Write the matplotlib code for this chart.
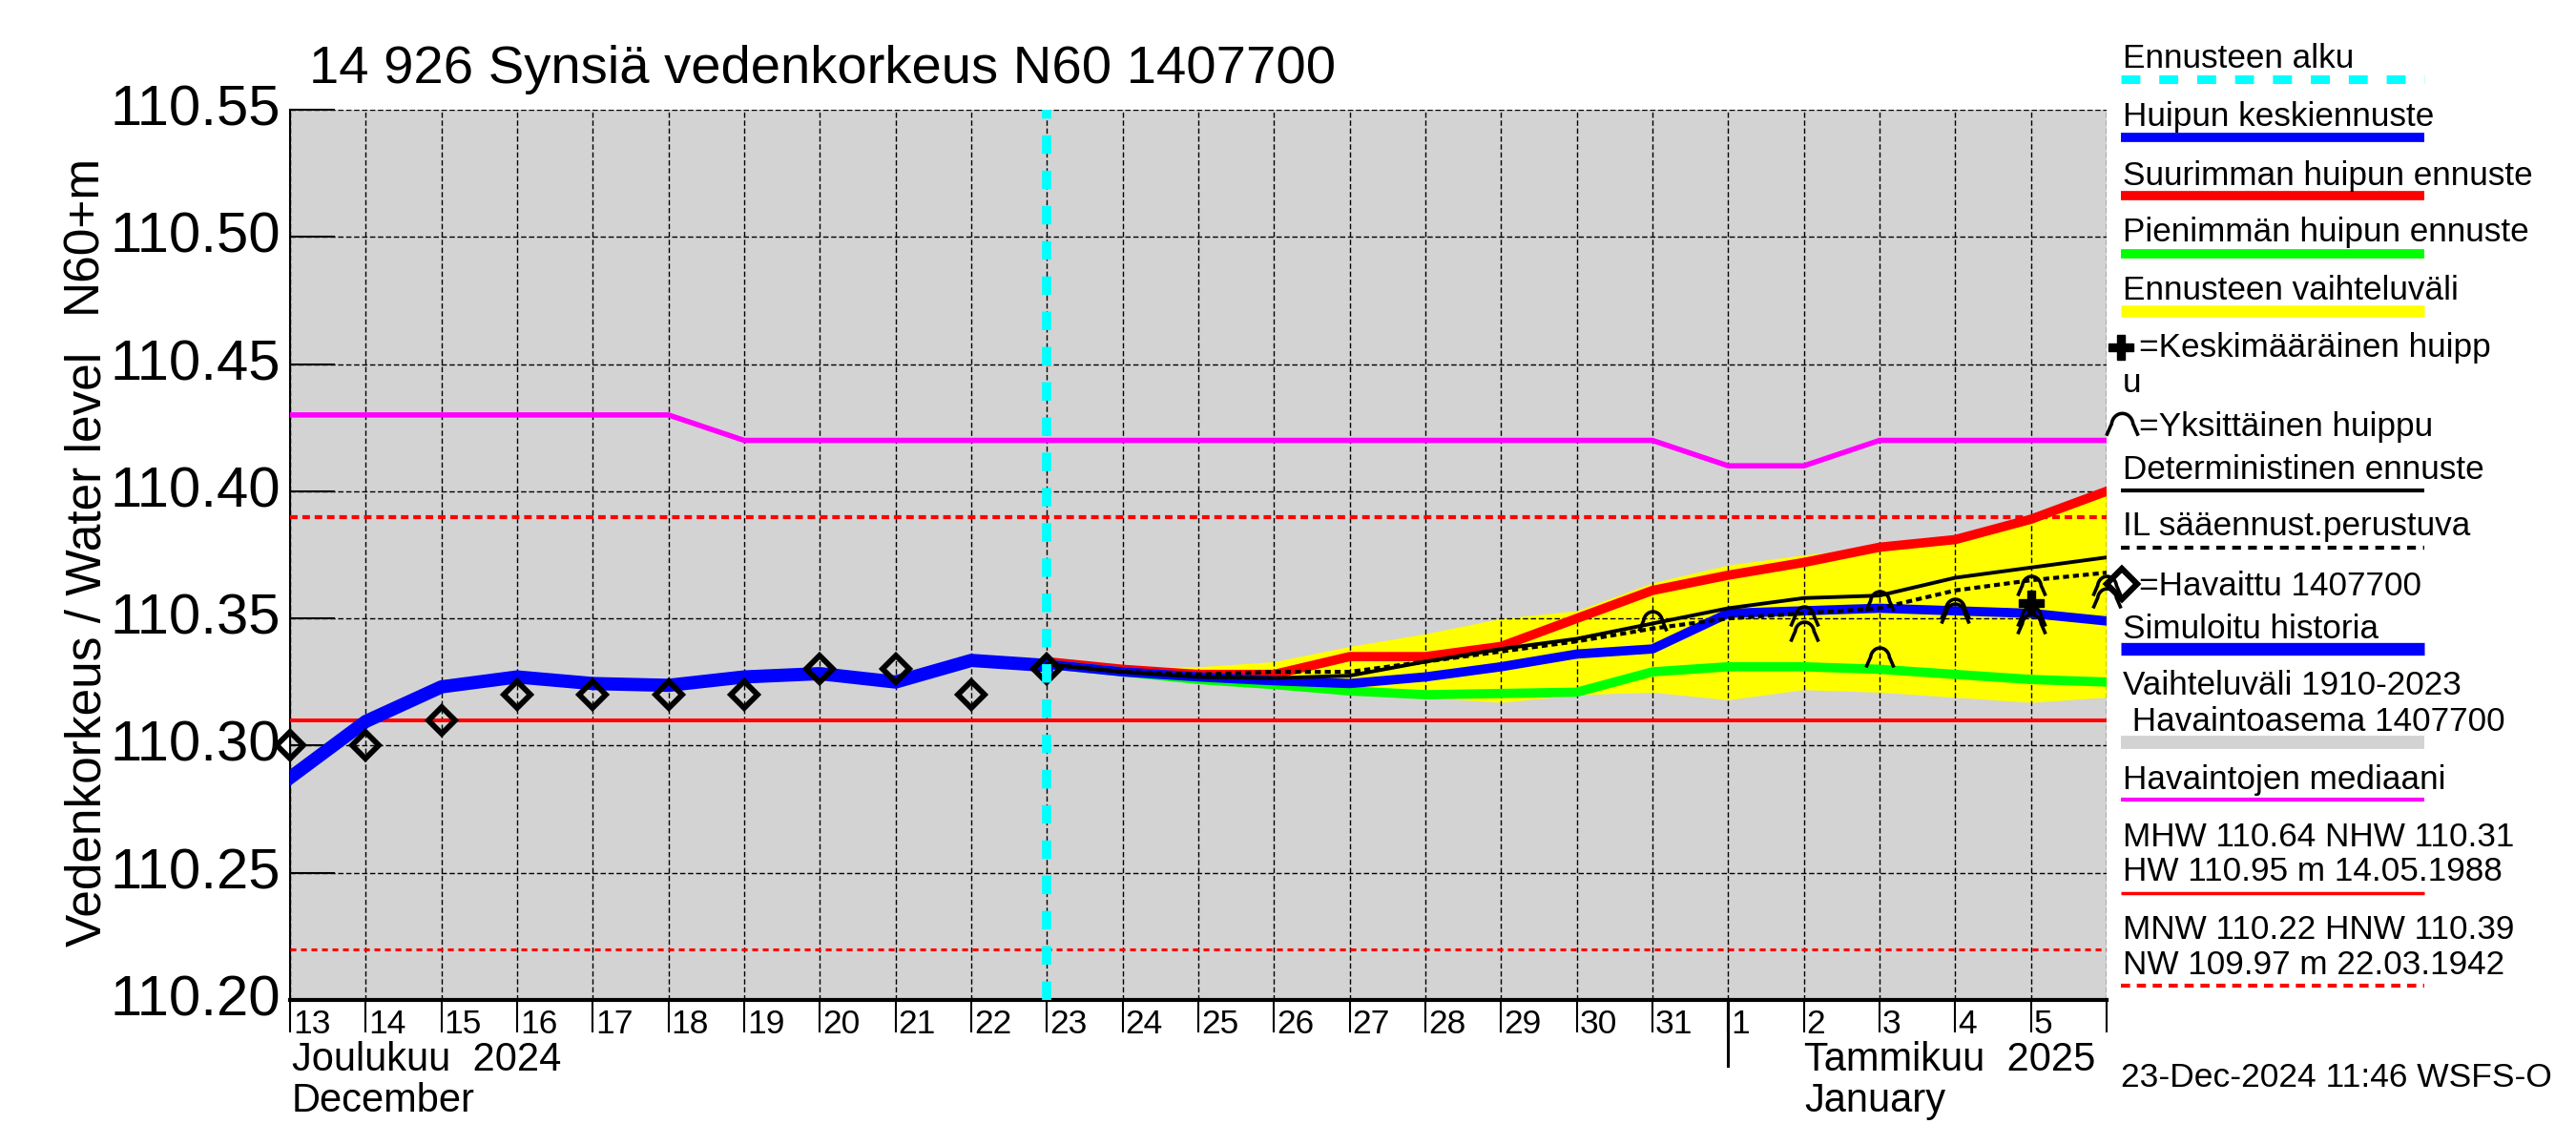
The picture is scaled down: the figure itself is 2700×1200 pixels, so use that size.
import numpy as np
import matplotlib
matplotlib.use('Agg')
import matplotlib.pyplot as plt
import matplotlib.transforms as mtransforms
from matplotlib.lines import Line2D
from matplotlib.path import Path
from datetime import datetime

plt.rcParams['font.family'] = ['Liberation Sans', 'DejaVu Sans']


def d(m, day):
    return datetime(2024 if m == 12 else 2025, m, day)


# --- data ---
obs_days = [d(12, k) for k in range(13, 24)]
obs_level = [110.30, 110.30, 110.31, 110.32, 110.32, 110.32, 110.32,
             110.33, 110.33, 110.32, 110.33]

sim_days = obs_days
sim_level = [110.2874, 110.3095, 110.3231, 110.3270, 110.3244, 110.3237,
             110.3270, 110.3283, 110.3250, 110.3335, 110.3315]

fc_days = [d(12, k) for k in range(23, 32)] + [d(1, k) for k in range(1, 7)]
fc_mean = [110.332, 110.329, 110.327, 110.3255, 110.3244, 110.327, 110.331,
           110.336, 110.338, 110.352, 110.353, 110.354, 110.353, 110.352, 110.349]
fc_max = [110.333, 110.330, 110.328, 110.328, 110.335, 110.335, 110.339,
          110.350, 110.361, 110.367, 110.372, 110.378, 110.381, 110.389, 110.400]
fc_min = [110.332, 110.329, 110.326, 110.324, 110.3215, 110.320, 110.3205,
          110.321, 110.329, 110.331, 110.331, 110.330, 110.328, 110.326, 110.325]
fc_high = [110.333, 110.331, 110.331, 110.333, 110.339, 110.344, 110.350,
           110.353, 110.364, 110.371, 110.375, 110.378, 110.381, 110.389, 110.400]
fc_low = [110.332, 110.328, 110.325, 110.323, 110.321, 110.319, 110.317,
          110.320, 110.321, 110.318, 110.322, 110.321, 110.319, 110.317, 110.319]
fc_det = [110.332, 110.329, 110.327, 110.3265, 110.3275, 110.333, 110.338,
          110.342, 110.348, 110.354, 110.358, 110.359, 110.366, 110.370, 110.374]
fc_il = [110.332, 110.329, 110.328, 110.329, 110.329, 110.333, 110.337,
         110.341, 110.346, 110.350, 110.352, 110.354, 110.361, 110.365, 110.368]

median_days = [d(12, 13), d(12, 18), d(12, 19), d(12, 31), d(1, 1), d(1, 2),
               d(1, 3), d(1, 6)]
median_level = [110.43, 110.43, 110.42, 110.42, 110.41, 110.41, 110.42, 110.42]

peak_days = [d(12, 31), d(1, 2), d(1, 2), d(1, 3), d(1, 3), d(1, 4), d(1, 4),
             d(1, 5), d(1, 5), d(1, 5), d(1, 6), d(1, 6)]
peak_level = [110.348, 110.350, 110.344, 110.356, 110.334, 110.353, 110.351,
              110.362, 110.350, 110.347, 110.362, 110.357]
mean_peak_day = [d(1, 5)]
mean_peak_level = [110.356]

forecast_start = d(12, 23)
nhw, hnw, mnw = 110.31, 110.39, 110.22

tick_days = [d(12, k) for k in range(13, 32)] + [d(1, k) for k in range(1, 7)]
tick_labels = [str(k) for k in range(13, 32)] + [str(k) for k in range(1, 6)] + ['']
y_ticks = [110.20, 110.25, 110.30, 110.35, 110.40, 110.45, 110.50, 110.55]

# --- figure ---
W, H = 2700, 1200


def fx(x):
    return x / W


def fy(y):
    return 1 - y / H


fig = plt.figure(figsize=(27, 12), dpi=100)
ax = fig.add_axes([fx(304), fy(1048), (2208 - 304) / W, (1048 - 115) / H])
ax.set_facecolor('#d3d3d3')

ax.fill_between(fc_days, fc_low, fc_high, color='#ffff00', lw=0, zorder=2)
ax.plot(median_days, median_level, color='#ff00ff', lw=4, zorder=3)
ax.axhline(nhw, color='red', lw=2.9, zorder=3)
ax.axhline(hnw, color='red', lw=3, ls=(0, (1.9, 1.2)), zorder=3)
ax.axhline(mnw, color='red', lw=2.2, ls=(0, (2, 1.6)), zorder=3)

ax.plot(fc_days, fc_max, color='red', lw=7, zorder=4)
ax.plot(fc_days, fc_min, color='#00ff00', lw=7, zorder=4)
ax.plot(sim_days, sim_level, color='blue', lw=10, zorder=5)
ax.plot(fc_days, fc_mean, color='blue', lw=7, zorder=5)
ax.plot(fc_days, fc_det, color='black', lw=2.8, zorder=6)
ax.plot(fc_days, fc_il, color='black', lw=3, ls=(0, (1.5, 1)), zorder=6)

ax.plot(obs_days, obs_level, ls='none', marker='D', ms=14, mfc='none',
        mec='black', mew=4.2, zorder=7, clip_on=False)

# bell shaped "single peak" symbol
t = np.radians(np.linspace(0, 180, 30))
arch_xy = np.vstack([[[1.0, -0.55]],
                     np.column_stack([0.68 * np.cos(t), 0.1 + 0.75 * np.sin(t)]),
                     [[-1.0, -0.55]]])
arch_xy[1, 0] = 0.72
arch_xy[-2, 0] = -0.72
arch = Path(arch_xy)
ax.plot(peak_days, peak_level, ls='none', marker=arch, ms=21, mfc='none',
        mec='black', mew=2.6, zorder=7, clip_on=False)
ax.plot(mean_peak_day, mean_peak_level, ls='none', marker='P', ms=19,
        color='black', zorder=7)

ax.axvline(forecast_start, color='#00ffff', lw=7, ls=(0, (2, 1.8)), zorder=8)

ax.set_xlim(d(12, 13), d(1, 6))
ax.set_ylim(110.20, 110.55)

ax.set_axisbelow(False)
ax.grid(True, color='black', lw=1, ls=(0, (4, 2)))
for s in ('top', 'right'):
    ax.spines[s].set_visible(False)
ax.spines['left'].set_linewidth(1.5)
ax.spines['bottom'].set_linewidth(3)

ax.set_yticks(y_ticks)
ax.set_yticklabels(['%.2f' % v for v in y_ticks])
ax.tick_params(axis='y', direction='in', length=34, width=1.5, pad=7,
               labelsize=43)
up = mtransforms.ScaledTranslation(0, 5 / 100, fig.dpi_scale_trans)
for lab in ax.get_yticklabels():
    lab.set_transform(lab.get_transform() + up)

ax.set_xticks(tick_days)
ax.set_xticklabels(tick_labels)
ax.tick_params(axis='x', direction='out', length=24.5, width=1.5, pad=-18,
               labelsize=25.5)
right = mtransforms.ScaledTranslation(3 / 100, 0, fig.dpi_scale_trans)
for lab in ax.get_xticklabels():
    lab.set_horizontalalignment('left')
    lab.set_transform(lab.get_transform() + right)

# month boundary tick
bt = mtransforms.blended_transform_factory(ax.transData, ax.transAxes)
ax.plot([d(1, 1), d(1, 1)], [0, -(1117 - 1048) / 933], color='black', lw=2.2,
        transform=bt, clip_on=False)

# --- texts ---
fig.text(fx(324), fy(87), '14 926 Synsiä vedenkorkeus N60 1407700',
         fontsize=40.5, va='baseline')
fig.text(fx(106), fy(680), 'Vedenkorkeus / Water level', fontsize=37,
         rotation=90, rotation_mode='anchor', ha='center', va='baseline')
fig.text(fx(100), fy(244), 'N60+m', fontsize=37,
         rotation=90, rotation_mode='anchor', ha='center', va='baseline')
fig.text(fx(306), fy(1122), 'Joulukuu  2024', fontsize=30, va='baseline')
fig.text(fx(306), fy(1165), 'December', fontsize=30, va='baseline')
fig.text(fx(1891), fy(1122), 'Tammikuu  2025', fontsize=30, va='baseline')
fig.text(fx(1891), fy(1165), 'January', fontsize=30, va='baseline')
fig.text(fx(2223), fy(1139), '23-Dec-2024 11:46 WSFS-O', fontsize=25.5,
         va='baseline')

# --- legend on the right ---
LX0, LX1, TX = 2223, 2541, 2225
LFS = 25.3


def leg_text(y, s, x=TX):
    fig.text(fx(x), fy(y), s, fontsize=LFS, va='baseline')


def leg_line(y, color, lw, ls='-'):
    fig.add_artist(Line2D([fx(LX0), fx(LX1)], [fy(y), fy(y)], color=color,
                          lw=lw, ls=ls, solid_capstyle='butt',
                          dash_capstyle='butt'))


leg_text(71, 'Ennusteen alku')
leg_line(83, '#00ffff', 6.5, (0, (2.2, 2.2)))
leg_text(132, 'Huipun keskiennuste')
leg_line(144, 'blue', 7)
leg_text(194, 'Suurimman huipun ennuste')
leg_line(205, 'red', 7)
leg_text(253, 'Pienimmän huipun ennuste')
leg_line(266, '#00ff00', 7)
leg_text(314, 'Ennusteen vaihteluväli')
leg_line(326, '#ffff00', 9)
fig.add_artist(Line2D([fx(2223)], [fy(364)], marker='P', ms=19, color='black',
                      ls='none'))
leg_text(374, '=Keskimääräinen huipp', x=2242)
leg_text(411, 'u')
fig.add_artist(Line2D([fx(2224)], [fy(447)], marker=arch, ms=24, mfc='none',
                      mec='black', mew=2.6, ls='none'))
leg_text(457, '=Yksittäinen huippu', x=2242)
leg_text(502, 'Deterministinen ennuste')
leg_line(514, 'black', 3)
leg_text(561, 'IL sääennust.perustuva')
leg_line(574, 'black', 3, (0, (2.2, 1.8)))
fig.add_artist(Line2D([fx(2224)], [fy(612)], marker='D', ms=16, mfc='none',
                      mec='black', mew=4.5, ls='none'))
leg_text(624, '=Havaittu 1407700', x=2242)
leg_text(669, 'Simuloitu historia')
leg_line(680, 'blue', 9.6)
leg_text(728, 'Vaihteluväli 1910-2023')
leg_text(766, ' Havaintoasema 1407700')
leg_line(778, '#d3d3d3', 10)
leg_text(827, 'Havaintojen mediaani')
leg_line(838, '#ff00ff', 3)
leg_text(887, 'MHW 110.64 NHW 110.31')
leg_text(923, 'HW 110.95 m 14.05.1988')
leg_line(936, 'red', 2.5)
leg_text(984, 'MNW 110.22 HNW 110.39')
leg_text(1021, 'NW 109.97 m 22.03.1942')
leg_line(1033, 'red', 3, (0, (2.3, 1.7)))

fig.savefig('out.png', dpi=100)
